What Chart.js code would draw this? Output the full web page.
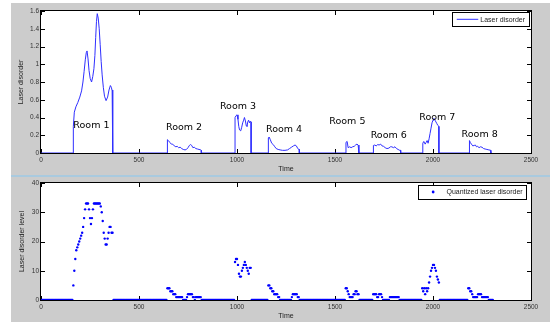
<!DOCTYPE html>
<html>
<head>
<meta charset="utf-8">
<script src="https://cdn.jsdelivr.net/npm/chart.js@4.4.1/dist/chart.umd.min.js"></script>
<style>
  html, body { margin: 0; padding: 0; background: #fff; }
  body { width: 550px; height: 322px; position: relative; overflow: hidden; }
  #fig { position: absolute; left: 11px; top: 3px; right: 0; bottom: 0; background: #cccccc; }
  #sep { position: absolute; left: 11px; right: 0; top: 175px; height: 2px; background: #a9cadf; }
  canvas { position: absolute; left: 0; }
  #topChart { top: 0; }
  #botChart { top: 177px; }
</style>
</head>
<body>
<div id="fig"></div>
<div id="sep"></div>
<canvas id="topChart" width="550" height="175"></canvas>
<canvas id="botChart" width="550" height="145"></canvas>
<script>
/* =======================
   DATA
======================= */

const rooms = ["Room 1", "Room 2", "Room 3", "Room 4", "Room 5", "Room 6", "Room 7", "Room 8"];
const roomLabelTime = [165, 638, 913, 1148, 1471, 1682, 1930, 2146];
const roomLabelValue = [0.31, 0.29, 0.52, 0.26, 0.35, 0.20, 0.40, 0.21];

const timeTicks = [0, 500, 1000, 1500, 2000, 2500];
const disorderTicks = [0, 0.2, 0.4, 0.6, 0.8, 1, 1.2, 1.4, 1.6];
const levelTicks = [0, 10, 20, 30, 40];

const lineEnd = 2300;

// laser disorder inside each room: times and values
const disorderTime = [
  [165, 170, 178, 188, 198, 207, 214, 220, 226, 231, 235, 240, 245, 251, 258, 264, 270, 275, 279, 283, 287, 292, 297, 302, 307, 312, 318, 324, 332, 340, 347, 354, 359, 363, 366],
  [645, 650, 657, 665, 672, 680, 688, 695, 702, 710, 718, 726, 735, 742, 750, 757, 763, 769, 775, 782, 790, 798, 806, 815, 818],
  [990, 995, 1000, 1005, 1009, 1013, 1019, 1024, 1029, 1034, 1038, 1043, 1047, 1051, 1055, 1059, 1064, 1068, 1072],
  [1160, 1164, 1170, 1177, 1185, 1193, 1200, 1210, 1220, 1232, 1245, 1258, 1268, 1278, 1288, 1296, 1303, 1310, 1316, 1318],
  [1556, 1562, 1567, 1575, 1582, 1590, 1598, 1605, 1612, 1618, 1622],
  [1696, 1703, 1710, 1718, 1725, 1733, 1740, 1748, 1756, 1765, 1775, 1783, 1790, 1798, 1806, 1814, 1822, 1830, 1835],
  [1948, 1953, 1960, 1965, 1970, 1975, 1980, 1985, 1990, 1995, 2000, 2005, 2010, 2015, 2020, 2025, 2030],
  [2186, 2190, 2196, 2203, 2210, 2216, 2222, 2228, 2235, 2242, 2250, 2258, 2266, 2275, 2285, 2295]
];
const disorderValue = [
  [0.30, 0.46, 0.52, 0.57, 0.63, 0.70, 0.80, 0.92, 1.05, 1.13, 1.15, 1.06, 0.93, 0.84, 0.80, 0.86, 0.95, 1.10, 1.30, 1.48, 1.57, 1.52, 1.40, 1.22, 1.03, 0.88, 0.74, 0.64, 0.59, 0.63, 0.71, 0.76, 0.74, 0.70, 0.71],
  [0.15, 0.14, 0.12, 0.10, 0.10, 0.08, 0.07, 0.075, 0.06, 0.065, 0.05, 0.04, 0.035, 0.04, 0.06, 0.085, 0.095, 0.085, 0.06, 0.065, 0.05, 0.045, 0.04, 0.035, 0.03],
  [0.40, 0.42, 0.43, 0.38, 0.30, 0.26, 0.25, 0.29, 0.34, 0.37, 0.40, 0.36, 0.31, 0.30, 0.35, 0.37, 0.34, 0.36, 0.35],
  [0.17, 0.18, 0.15, 0.11, 0.095, 0.07, 0.05, 0.04, 0.035, 0.03, 0.03, 0.035, 0.05, 0.065, 0.08, 0.09, 0.08, 0.05, 0.04, 0.04],
  [0.12, 0.13, 0.06, 0.07, 0.06, 0.07, 0.075, 0.09, 0.10, 0.09, 0.09],
  [0.085, 0.09, 0.08, 0.095, 0.09, 0.10, 0.08, 0.075, 0.06, 0.05, 0.055, 0.07, 0.07, 0.06, 0.07, 0.05, 0.04, 0.03, 0.03],
  [0.11, 0.13, 0.10, 0.12, 0.14, 0.11, 0.16, 0.22, 0.28, 0.34, 0.37, 0.39, 0.37, 0.35, 0.33, 0.31, 0.30],
  [0.14, 0.12, 0.10, 0.08, 0.085, 0.09, 0.07, 0.075, 0.06, 0.07, 0.065, 0.05, 0.045, 0.04, 0.035, 0.03]
];

// quantized level, one sample every 5 time units, zero outside the rooms
const levelStep = 5;
const levelEnd = 2305;
const levelStart = [165, 645, 990, 1160, 1555, 1695, 1945, 2180];
const levelValue = [
  [5, 10, 14, 17, 18, 19, 20, 21, 22, 23, 25, 28, 31, 33, 33, 33, 31, 28, 26, 28, 31, 33, 33, 33, 33, 33, 33, 33, 32, 30, 27, 23, 21, 19, 19, 21, 23, 25, 25, 23, 23],
  [4, 4, 4, 3, 3, 3, 2, 2, 2, 1, 1, 1, 1, 1, 1, 1, 0, 0, 0, 0, 1, 2, 2, 2, 2, 2, 1, 1, 0, 1, 1, 1, 1, 1, 1],
  [13, 14, 14, 12, 9, 8, 8, 10, 11, 12, 13, 12, 11, 10, 9, 11, 11],
  [5, 5, 4, 4, 3, 3, 2, 2, 2, 2, 1, 1, 0, 0, 0, 0, 0, 0, 0, 0, 0, 0, 0, 0, 1, 2, 2, 2, 2, 2, 1, 1],
  [4, 4, 3, 2, 1, 1, 1, 1, 2, 2, 3, 3, 2, 2],
  [2, 2, 2, 2, 1, 1, 2, 2, 2, 1, 0, 0, 0, 0, 0, 0, 0, 1, 1, 1, 1, 1, 1, 1, 1, 1, 1, 0, 0],
  [4, 3, 4, 2, 4, 3, 4, 6, 8, 10, 11, 12, 12, 11, 10, 8, 7, 6],
  [4, 4, 3, 3, 2, 1, 1, 1, 1, 1, 2, 2, 2, 2, 1, 1, 1, 1, 1, 1, 1]
];

/* =======================
   BUILD SERIES
======================= */

function buildDisorder() {
  const pts = [{ x: 0, y: 0 }];
  disorderTime.forEach((times, r) => {
    pts.push({ x: times[0], y: 0 });
    times.forEach((t, i) => pts.push({ x: t, y: disorderValue[r][i] }));
    pts.push({ x: times[times.length - 1], y: 0 });
  });
  pts.push({ x: lineEnd, y: 0 });
  return pts;
}

function buildLevels() {
  const pts = [];
  for (let t = 0; t <= levelEnd; t += levelStep) {
    let y = 0;
    levelStart.forEach((s, r) => {
      const i = (t - s) / levelStep;
      if (i >= 0 && i < levelValue[r].length) y = levelValue[r][i];
    });
    pts.push({ x: t, y });
  }
  return pts;
}

/* =======================
   MATLAB-LOOK PLUGIN
======================= */

const tickFont = { family: "'Liberation Sans', Arial, sans-serif", size: 6.5 };
const titleFont = { family: "'Liberation Sans', Arial, sans-serif", size: 7 };

const matlabAxes = {
  id: "matlabAxes",
  beforeDraw(chart) {
    const { ctx, chartArea: a } = chart;
    ctx.save();
    ctx.fillStyle = "#fff";
    ctx.fillRect(a.left, a.top, a.right - a.left, a.bottom - a.top);
    ctx.restore();
  },
  beforeDatasetsDraw(chart) {
    const { ctx, chartArea: a, scales } = chart;
    ctx.save();
    ctx.strokeStyle = "#000";
    ctx.lineWidth = 1;
    ctx.strokeRect(a.left - 0.5, a.top - 0.5, a.right - a.left + 1, a.bottom - a.top + 1);
    ctx.beginPath();
    scales.x.ticks.forEach(tk => {
      const px = Math.round(scales.x.getPixelForValue(tk.value)) + 0.5;
      ctx.moveTo(px, a.bottom); ctx.lineTo(px, a.bottom - 4);
      ctx.moveTo(px, a.top); ctx.lineTo(px, a.top + 4);
    });
    scales.y.ticks.forEach(tk => {
      const py = Math.round(scales.y.getPixelForValue(tk.value)) + 0.5;
      ctx.moveTo(a.left, py); ctx.lineTo(a.left + 4, py);
      ctx.moveTo(a.right, py); ctx.lineTo(a.right - 4, py);
    });
    ctx.stroke();
    ctx.restore();
  },
  afterDatasetsDraw(chart, args, opts) {
    const { ctx, chartArea: a, scales } = chart;
    ctx.save();

    // room annotations
    if (opts.labels) {
      ctx.fillStyle = "#000";
      ctx.font = "9.5px 'DejaVu Sans', sans-serif";
      ctx.textAlign = "left";
      ctx.textBaseline = "middle";
      opts.labels.forEach((txt, i) => {
        ctx.fillText(txt, scales.x.getPixelForValue(opts.labelX[i]), scales.y.getPixelForValue(opts.labelY[i]));
      });
    }

    // legend box in the upper right corner
    const lg = opts.legend;
    ctx.font = "7px 'Liberation Sans', Arial, sans-serif";
    const tw = ctx.measureText(lg.text).width;
    const right = a.right - lg.right;
    const top = a.top + lg.top;
    const textX = right - 4 - tw;
    const left = textX - 28;
    const h = 14;
    ctx.fillStyle = "#fff";
    ctx.fillRect(left, top, right - left, h);
    ctx.strokeStyle = "#000";
    ctx.lineWidth = 1;
    ctx.strokeRect(Math.round(left) + 0.5, Math.round(top) + 0.5, Math.round(right - left), h);
    const cy = top + h / 2;
    if (lg.marker === "line") {
      ctx.strokeStyle = "#2f2fff";
      ctx.beginPath();
      ctx.moveTo(left + 4.5, cy);
      ctx.lineTo(textX - 2, cy);
      ctx.stroke();
    } else {
      ctx.fillStyle = "#0000ff";
      ctx.beginPath();
      ctx.arc(left + 14.7, cy, 1.4, 0, Math.PI * 2);
      ctx.fill();
    }
    ctx.fillStyle = "#222";
    ctx.textAlign = "left";
    ctx.textBaseline = "middle";
    ctx.fillText(lg.text, textX, cy + 0.5);
    ctx.restore();
  }
};

function axisOptions(yTicks, yTitle, yTitlePad, yFormat, padTop) {
  return {
    x: {
      type: "linear",
      min: 0, max: 2500,
      afterFit: s => { s.height = 22; },
      afterBuildTicks: s => { s.ticks = timeTicks.map(v => ({ value: v })); },
      grid: { display: false, drawTicks: false },
      border: { display: false },
      ticks: { font: tickFont, color: "#333", padding: 3, maxRotation: 0, autoSkip: false, callback: v => String(v) },
      title: { display: true, text: "Time", font: titleFont, color: "#222", padding: { top: 0, bottom: 2.1 } }
    },
    y: {
      type: "linear",
      min: yTicks[0], max: yTicks[yTicks.length - 1],
      afterFit: s => { s.width = 41; },
      afterBuildTicks: s => { s.ticks = yTicks.map(v => ({ value: v })); },
      grid: { display: false, drawTicks: false },
      border: { display: false },
      ticks: { font: tickFont, color: "#333", padding: 2, autoSkip: false, callback: yFormat },
      title: { display: true, text: yTitle, font: titleFont, color: "#222", padding: { top: yTitlePad, bottom: 0 } }
    }
  };
}

/* =======================
   CHARTS
======================= */

new Chart(document.getElementById("topChart"), {
  type: "line",
  data: {
    datasets: [{
      label: "Laser disorder",
      data: buildDisorder(),
      borderColor: "#2f2fff",
      borderWidth: 1,
      pointRadius: 0,
      fill: false,
      tension: 0
    }]
  },
  options: {
    responsive: false,
    animation: false,
    events: [],
    layout: { padding: { left: 0, right: 19, top: 11, bottom: 0 } },
    scales: axisOptions(disorderTicks, "Laser disorder", 16.6, v => String(+v.toFixed(1))),
    plugins: {
      legend: { display: false },
      tooltip: { enabled: false },
      matlabAxes: {
        labels: rooms, labelX: roomLabelTime, labelY: roomLabelValue,
        legend: { text: "Laser disorder", marker: "line", right: 2, top: 1.3 }
      }
    }
  },
  plugins: [matlabAxes]
});

new Chart(document.getElementById("botChart"), {
  type: "scatter",
  data: {
    datasets: [{
      label: "Quantized laser disorder",
      data: buildLevels(),
      backgroundColor: "#0000ff",
      borderWidth: 0,
      pointRadius: 1.2
    }]
  },
  options: {
    responsive: false,
    animation: false,
    events: [],
    layout: { padding: { left: 0, right: 19, top: 6, bottom: 0 } },
    scales: axisOptions(levelTicks, "Laser disorder level", 18.3, v => String(v)),
    plugins: {
      legend: { display: false },
      tooltip: { enabled: false },
      matlabAxes: {
        legend: { text: "Quantized laser disorder", marker: "dot", right: 4.3, top: 2 }
      }
    }
  },
  plugins: [matlabAxes]
});
</script>
</body>
</html>
